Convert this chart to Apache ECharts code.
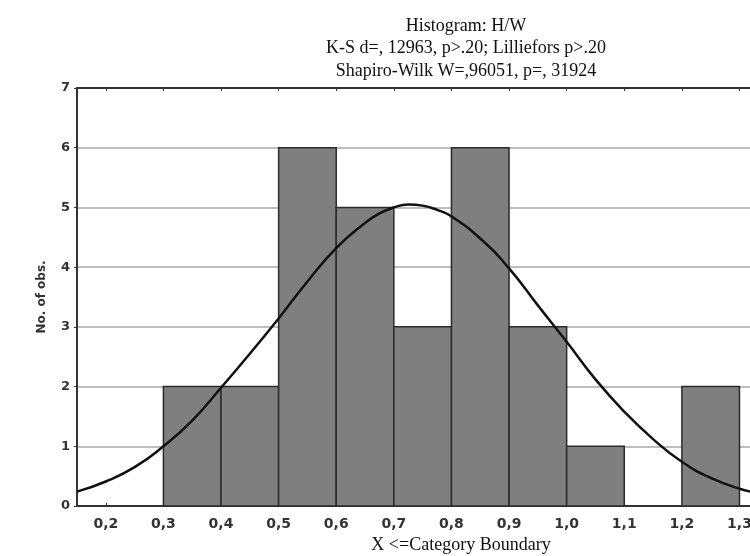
<!DOCTYPE html>
<html>
<head>
<meta charset="utf-8">
<script src="https://cdn.jsdelivr.net/npm/echarts@6/dist/echarts.min.js"></script>
<style>html,body{margin:0;padding:0;background:#fff}#c{width:750px;height:556px}</style>
</head>
<body>
<div id="c"></div>
<script>
// Histogram bins: lower boundary, upper boundary, count
var binStart = [0.3, 0.4, 0.5, 0.6, 0.7, 0.8, 0.9, 1.0, 1.1, 1.2];
var binEnd   = [0.4, 0.5, 0.6, 0.7, 0.8, 0.9, 1.0, 1.1, 1.2, 1.3];
var counts   = [2, 2, 6, 5, 3, 6, 3, 1, 0, 2];
// Fitted normal curve
var curveX = [0.15, 0.2, 0.25, 0.3, 0.35, 0.4, 0.45, 0.5, 0.55, 0.6, 0.65, 0.675, 0.7, 0.725, 0.75, 0.775, 0.8, 0.85, 0.9, 0.95, 1.0, 1.05, 1.1, 1.15, 1.2, 1.25, 1.3, 1.35];
var curveY = [0.24, 0.41, 0.65, 1.0, 1.43, 1.98, 2.55, 3.14, 3.76, 4.32, 4.74, 4.9, 5.0, 5.05, 5.03, 4.96, 4.85, 4.48, 3.98, 3.36, 2.75, 2.12, 1.58, 1.12, 0.74, 0.47, 0.29, 0.18];
// Tick values
var xTicks = [0.2, 0.3, 0.4, 0.5, 0.6, 0.7, 0.8, 0.9, 1.0, 1.1, 1.2, 1.3];
var xTickLabels = ['0,2', '0,3', '0,4', '0,5', '0,6', '0,7', '0,8', '0,9', '1,0', '1,1', '1,2', '1,3'];
var titleLines = ['Histogram: H/W', 'K-S d=, 12963, p>.20; Lilliefors p>.20', 'Shapiro-Wilk W=,96051, p=, 31924'];

var barData = binStart.map(function (s, i) { return [s, binEnd[i], counts[i]]; });
var curveData = curveX.map(function (x, i) { return [x, curveY[i]]; });

var SANS = 'DejaVu Sans, Verdana, sans-serif';
var SERIF = 'Liberation Serif, Times New Roman, serif';
var chart = echarts.init(document.getElementById('c'));
chart.setOption({
  animation: false,
  backgroundColor: '#fff',
  title: {
    text: titleLines.join('\n'),
    left: 461, top: 10, textAlign: 'center',
    textStyle: { fontFamily: SERIF, fontWeight: 'normal', fontSize: 18, lineHeight: 22.5, color: '#111' }
  },
  grid: { left: 77, top: 88, width: 674, height: 418, show: false, containLabel: false, outerBoundsMode: 'none' },
  xAxis: [{
    type: 'value', min: 0.15, max: 1.32,
    position: 'bottom',
    name: 'X <=Category Boundary', nameLocation: 'middle', nameGap: 29,
    nameTextStyle: { fontFamily: SERIF, fontSize: 18, color: '#111', padding: [0, 0, 0, 94] },
    axisLine: { show: true, onZero: false, lineStyle: { color: '#333', width: 2 } },
    axisTick: { show: true, inside: true, length: 3, customValues: xTicks, lineStyle: { color: '#333' } },
    axisLabel: { customValues: xTicks, margin: 11, hideOverlap: false, formatter: function (v) {
      var i = xTicks.findIndex(function (t) { return Math.abs(t - v) < 1e-6; });
      return i >= 0 ? xTickLabels[i] : '';
    }, fontFamily: SANS, fontWeight: 'bold', fontSize: 14, color: '#333' },
    splitLine: { show: false }
  }, {
    type: 'value', min: 0.15, max: 1.32,
    position: 'top',
    axisLine: { show: true, onZero: false, lineStyle: { color: '#333', width: 2 } },
    axisTick: { show: true, inside: true, length: 3, customValues: xTicks, lineStyle: { color: '#333' } },
    axisLabel: { show: false },
    splitLine: { show: false }
  }],
  yAxis: {
    type: 'value', min: 0, max: 7, interval: 1,
    name: 'No. of obs.', nameLocation: 'middle', nameGap: 29,
    nameTextStyle: { fontFamily: SANS, fontWeight: 'bold', fontSize: 12, color: '#333' },
    axisLine: { show: true, lineStyle: { color: '#333', width: 2 } },
    axisTick: { show: true, length: 3, lineStyle: { color: '#333' } },
    axisLabel: { margin: 7, fontFamily: SANS, fontWeight: 'bold', fontSize: 13, color: '#333' },
    splitLine: { show: true, lineStyle: { color: '#a8a8a8', width: 1.5 } }
  },
  series: [{
    type: 'custom',
    data: barData,
    renderItem: function (params, api) {
      if (api.value(2) <= 0) return null;
      var p0 = api.coord([api.value(0), api.value(2)]);
      var p1 = api.coord([api.value(1), 0]);
      return {
        type: 'rect',
        shape: { x: p0[0], y: p0[1], width: p1[0] - p0[0], height: p1[1] - p0[1] },
        style: { fill: '#7f7f7f', stroke: '#2b2b2b', lineWidth: 1.5 }
      };
    },
    encode: { x: [0, 1], y: 2 },
    z: 2
  }, {
    type: 'line',
    data: curveData,
    smooth: true,
    showSymbol: false,
    lineStyle: { color: '#111', width: 2.5 },
    z: 3
  }]
});
</script>
</body>
</html>
